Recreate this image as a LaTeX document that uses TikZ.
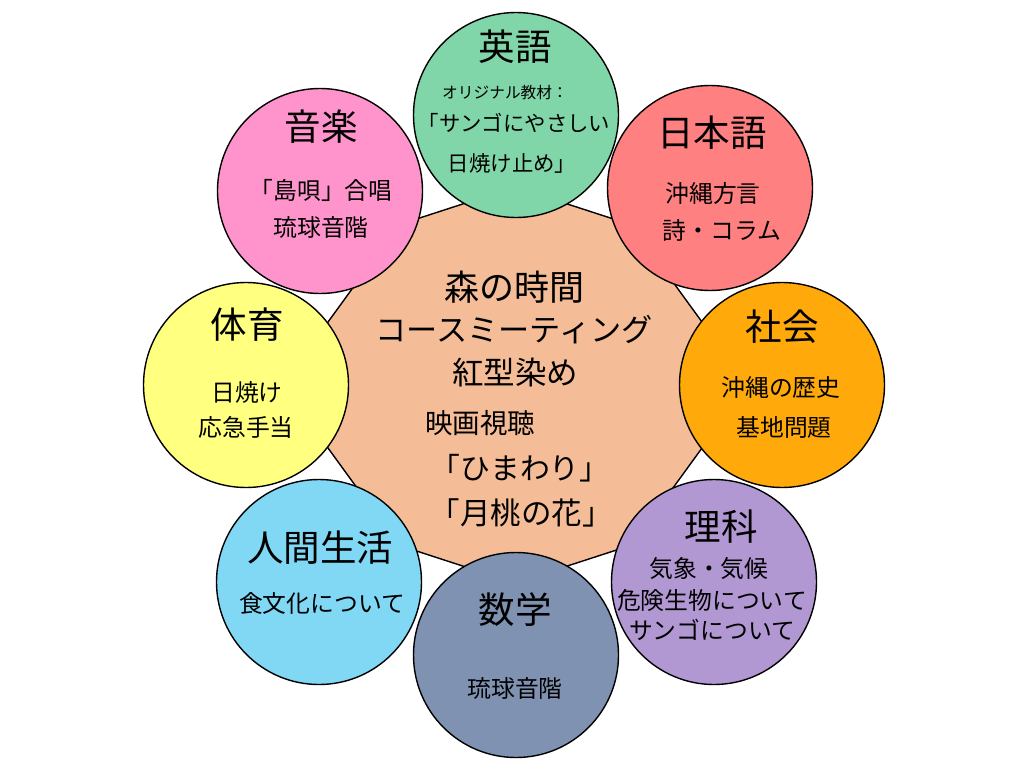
\documentclass[tikz,border=0pt]{standalone}
\usepackage{fontspec}
\usetikzlibrary{calc}
\setmainfont{Noto Sans CJK JP}
\definecolor{cpeach}{RGB}{244,189,152}
\definecolor{cgreen}{RGB}{128,214,168}
\definecolor{cred}{RGB}{255,128,128}
\definecolor{cpink}{RGB}{255,148,204}
\definecolor{cyellow}{RGB}{255,255,128}
\definecolor{corange}{RGB}{255,170,10}
\definecolor{cpurple}{RGB}{178,152,210}
\definecolor{cblue}{RGB}{128,216,245}
\definecolor{cslate}{RGB}{128,146,178}
\newcommand{\fsz}[1]{\fontsize{#1}{#1}\selectfont}
\tikzset{
  subj/.style={circle, draw=black, line width=1.4pt, minimum size=205pt, inner sep=0pt},
  ttl/.style={font=\fsz{36.5}, inner sep=0pt},
  sub/.style={font=\fsz{23.8}, inner sep=0pt},
  subs/.style={font=\fsz{21.4}, inner sep=0pt},
  small/.style={font=\fsz{15.7}, inner sep=0pt},
  ctr/.style={font=\fsz{31.2}, inner sep=0pt},
}
\begin{document}
\begin{tikzpicture}[x=1pt,y=-1pt]
\useasboundingbox (0,0) rectangle (1024,768);
\fill[white] (0,0) rectangle (1024,768);
\coordinate (c) at (515,385);
% central decagon
\draw[fill=cpeach, line width=1.4pt] ($(c)+(90:198)$)
  \foreach \a in {126,162,...,414} { -- ($(c)+(\a:198)$) } -- cycle;
% outer circles
\node[subj, fill=cgreen]  (eng) at (516,115) {};
\node[subj, fill=cred]    (jpn) at (710,188) {};
\node[subj, fill=cpink]   (mus) at (320,191) {};
\node[subj, fill=cyellow] (pe)  at (246,385) {};
\node[subj, fill=corange] (soc) at (782,385) {};
\node[subj, fill=cpurple] (sci) at (714,582) {};
\node[subj, fill=cblue]   (hum) at (319,582) {};
\node[subj, fill=cslate]  (mat) at (516,655) {};
% centre texts
\node[ctr, font=\fsz{35}]   (c1) at (514,287) {森の時間};
\node[ctr]                  (c2) at (514,330) {コースミーティング};
\node[ctr, font=\fsz{31.5}] (c3) at (515,373) {紅型染め};
\node[ctr, font=\fsz{27.5}] (c4) at (480,423) {映画視聴};
\node[ctr, font=\fsz{29.8}] (c5) at (520,468) {「ひまわり」};
\node[ctr, font=\fsz{30.5}] (c6) at (521,513) {「月桃の花」};
% 英語
\node[ttl]   (e1) at (515,47)  {英語};
\node[small] (e2) at (505,93)  {オリジナル教材：};
\node[subs]  (e3) at (514,123) {「サンゴにやさしい};
\node[subs]  (e4) at (512,163) {日焼け止め」};
% 日本語
\node[ttl] (j1) at (712,133) {日本語};
\node[sub] (j2) at (713,193) {沖縄方言};
\node[sub] (j3) at (722,230) {詩・コラム};
% 音楽
\node[ttl] (m1) at (321,127) {音楽};
\node[sub] (m2) at (321,190) {「島唄」合唱};
\node[sub] (m3) at (321,227) {琉球音階};
% 体育
\node[ttl] (p1) at (247,325) {体育};
\node[sub] (p2) at (247,392) {日焼け};
\node[sub] (p3) at (246,427) {応急手当};
% 社会
\node[ttl] (s1) at (782,327) {社会};
\node[sub] (s2) at (781,387) {沖縄の歴史};
\node[sub] (s3) at (784,427) {基地問題};
% 理科
\node[ttl] (r1) at (721,527) {理科};
\node[sub] (r2) at (709,568) {気象・気候};
\node[sub] (r3) at (712,600) {危険生物について};
\node[sub] (r4) at (712,630) {サンゴについて};
% 人間生活
\node[ttl] (h1) at (320,548) {人間生活};
\node[sub] (h2) at (322,603) {食文化について};
% 数学
\node[ttl] (x1) at (515,610) {数学};
\node[sub] (x2) at (515,688) {琉球音階};
\end{tikzpicture}
\end{document}
